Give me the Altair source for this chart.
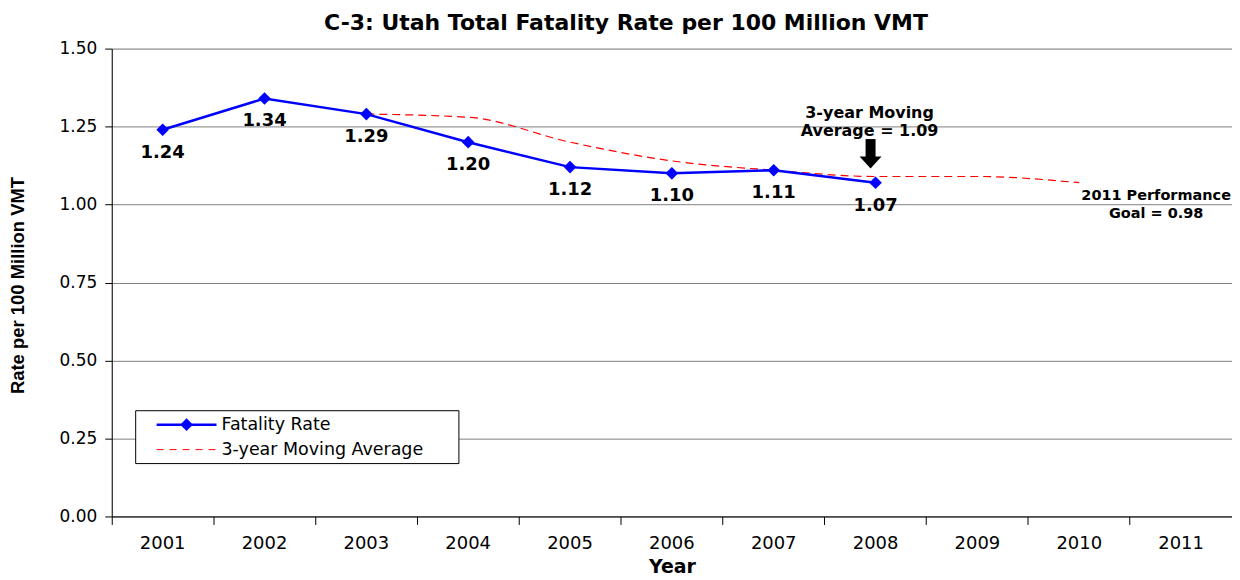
import altair as alt
import pandas as pd

# ---- data ----
years = ["2001", "2002", "2003", "2004", "2005", "2006", "2007", "2008", "2009", "2010", "2011"]
rate_years = ["2001", "2002", "2003", "2004", "2005", "2006", "2007", "2008"]
rate_values = [1.24, 1.34, 1.29, 1.20, 1.12, 1.10, 1.11, 1.07]
ma_years = ["2003", "2004", "2005", "2006", "2007", "2008", "2009", "2010"]
ma_values = [1.29, 1.28, 1.20, 1.14, 1.11, 1.09, 1.09, 1.07]
y_ticks = [0.0, 0.25, 0.5, 0.75, 1.0, 1.25, 1.5]

ma_note_year = "2008"
ma_note_lines = ["3-year Moving", "Average = 1.09"]
goal_year = "2011"
goal_lines = ["2011 Performance", "Goal = 0.98"]
arrow_top, arrow_shaft_end, arrow_head = 1.21, 1.15, 1.135

ARIAL = "Liberation Sans"
WIDE = "DejaVu Sans"

rate_df = pd.DataFrame({"year": rate_years, "value": rate_values,
                        "label": [f"{v:.2f}" for v in rate_values]})
ma_df = pd.DataFrame({"year": ma_years, "value": ma_values})

W, H = 1123, 469
xscale = alt.Scale(domain=years, paddingInner=0, paddingOuter=0)
yscale = alt.Scale(domain=[0, 1.5], nice=False)


def X():
    return alt.X("year:N", scale=xscale, sort=years)


x_enc = alt.X("year:N", scale=xscale, sort=years,
              axis=alt.Axis(title="Year", labelAngle=0, bandPosition=0,
                            tickSize=8, tickColor="black", domainColor="black",
                            labelFontSize=18, labelFont=WIDE, labelColor="black",
                            labelPadding=10, titleFontSize=19, titleFont=WIDE,
                            titleFontWeight="bold", titleColor="black",
                            titleY=56, titleBaseline="alphabetic",
                            grid=False))
y_enc = alt.Y("value:Q", scale=yscale,
              axis=alt.Axis(title="Rate per 100 Million VMT", values=y_ticks, format=".2f",
                            grid=True, gridColor="#808080", gridWidth=1,
                            tickSize=7, tickColor="black", domainColor="black",
                            labelFontSize=17, labelFont=WIDE, labelColor="black",
                            labelPadding=8, titleFontSize=18.5, titleFont=ARIAL,
                            titleFontWeight="bold", titleColor="black",
                            titleX=-84, titleY=237))

ma_line = alt.Chart(ma_df).mark_line(color="#FF0000", strokeWidth=1.2, strokeDash=[8, 5],
                                     interpolate="monotone").encode(x=x_enc, y=y_enc)

rate_line = alt.Chart(rate_df).mark_line(color="#0000FF", strokeWidth=2.5).encode(
    x=X(), y=alt.Y("value:Q", scale=yscale))
rate_pts = alt.Chart(rate_df).mark_point(shape="diamond", filled=True, color="#0000FF",
                                         size=160, opacity=1).encode(
    x=X(), y=alt.Y("value:Q", scale=yscale))
rate_lbl = alt.Chart(rate_df).mark_text(font=WIDE, fontSize=18, fontWeight="bold",
                                        color="black", dy=23, baseline="middle").encode(
    x=X(), y=alt.Y("value:Q", scale=yscale), text="label:N")

# annotations
note_df = pd.DataFrame({"year": [ma_note_year, ma_note_year], "value": [1.09, 1.09],
                        "text": ma_note_lines, "dy": [-64, -46]})
note_layers = []
for i in range(2):
    note_layers.append(
        alt.Chart(note_df.iloc[[i]]).mark_text(font=WIDE, fontSize=16, fontWeight="bold",
                                               color="black", baseline="middle",
                                               dy=int(note_df.dy[i]), dx=-6).encode(
            x=X(), y=alt.Y("value:Q", scale=yscale), text="text:N"))

arrow_df = pd.DataFrame({"year": [ma_note_year], "top": [arrow_top],
                         "bottom": [arrow_shaft_end], "head": [arrow_head]})
arrow_shaft = alt.Chart(arrow_df).mark_rule(color="black", strokeWidth=10, xOffset=-5).encode(
    x=X(), y=alt.Y("top:Q", scale=yscale), y2="bottom:Q")
arrow_head_mark = alt.Chart(arrow_df).mark_point(
    shape="M-1,-0.55L1,-0.55L0,0.55Z", filled=True, color="black", size=484, opacity=1,
    xOffset=-5).encode(x=X(), y=alt.Y("head:Q", scale=yscale))

goal_df = pd.DataFrame({"year": [goal_year, goal_year], "value": [0.98, 0.98],
                        "text": goal_lines, "dy": [-15, 3]})
goal_layers = []
for i in range(2):
    goal_layers.append(
        alt.Chart(goal_df.iloc[[i]]).mark_text(font=WIDE, fontSize=14.5, fontWeight="bold",
                                               color="black", baseline="middle",
                                               dy=int(goal_df.dy[i]), dx=-25).encode(
            x=X(), y=alt.Y("value:Q", scale=yscale), text="text:N"))

# legend (drawn box)
one = pd.DataFrame({"k": [0]})
leg_box = alt.Chart(one).mark_rect(fill="white", stroke="black", strokeWidth=1).encode(
    x=alt.value(24), x2=alt.value(348), y=alt.value(363), y2=alt.value(416))
leg_l1 = alt.Chart(one).mark_rule(color="#0000FF", strokeWidth=2.5).encode(
    x=alt.value(45), x2=alt.value(105), y=alt.value(377))
leg_p1 = alt.Chart(one).mark_point(shape="diamond", filled=True, color="#0000FF",
                                   size=160, opacity=1).encode(
    x=alt.value(75), y=alt.value(377))
leg_l2 = alt.Chart(one).mark_rule(color="#FF0000", strokeWidth=1, strokeDash=[7, 6]).encode(
    x=alt.value(45), x2=alt.value(105), y=alt.value(402))
leg_t1 = alt.Chart(one).mark_text(text="Fatality Rate", font=WIDE, fontSize=17.5,
                                  color="black", align="left", baseline="middle").encode(
    x=alt.value(110), y=alt.value(377))
leg_t2 = alt.Chart(one).mark_text(text="3-year Moving Average", font=WIDE, fontSize=17.5,
                                  color="black", align="left", baseline="middle").encode(
    x=alt.value(110), y=alt.value(402))

chart = alt.layer(
    ma_line, rate_line, rate_pts, rate_lbl, *note_layers, arrow_shaft, arrow_head_mark,
    *goal_layers, leg_box, leg_l1, leg_p1, leg_l2, leg_t1, leg_t2
).properties(
    width=W, height=H,
    title=alt.TitleParams("C-3: Utah Total Fatality Rate per 100 Million VMT", font=WIDE,
                          fontSize=22, fontWeight="bold", color="black", anchor="middle",
                          frame="group", dx=-46, offset=5),
    autosize=alt.AutoSizeParams(type="none"),
    padding={"left": 104, "top": 40, "right": 0, "bottom": 62},
).configure_view(stroke="#808080", strokeWidth=1.5).configure(background="white")

chart.save("out.html", embed_options={"renderer": "svg", "actions": False})
